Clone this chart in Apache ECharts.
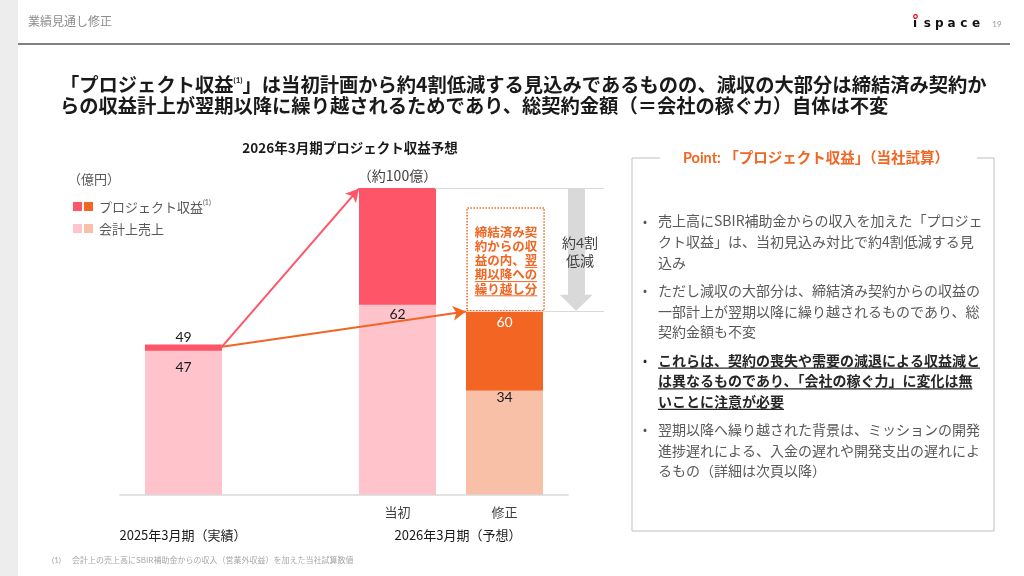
<!DOCTYPE html>
<html>
<head>
<meta charset="utf-8">
<script src="https://cdn.jsdelivr.net/npm/echarts@6/dist/echarts.min.js"></script>
<style>
html, body { margin: 0; padding: 0; background: #fff; }
#chart { width: 1024px; height: 576px; }
</style>
</head>
<body>
<div id="chart"></div>
<script>
// データ（億円）
const barNames = ['', '当初', '修正'];
const barSlots = [0, 2, 3];
const accountingSales = [47, 62, 34];
const projectRevenue = [49, 100, 60];
const periodLabels = ['2025年3月期（実績）', '2026年3月期（予想）'];
const boxLines = ['締結済み契', '約からの収', '益の内、翌', '期以降への', '繰り越し分'];
const bullets = [
    { bold: false, lines: ['売上高にSBIR補助金からの収入を加えた「プロジェ', 'クト収益」は、当初見込み対比で約4割低減する見', '込み'] },
    { bold: false, lines: ['ただし減収の大部分は、締結済み契約からの収益の', '一部計上が翌期以降に繰り越されるものであり、総', '契約金額も不変'] },
    { bold: true, lines: ['これらは、契約の喪失や需要の減退による収益減と', 'は異なるものであり、「会社の稼ぐ力」に変化は無', 'いことに注意が必要'] },
    { bold: false, lines: ['翌期以降へ繰り越された背景は、ミッションの開発', '進捗遅れによる、入金の遅れや開発支出の遅れによ', 'るもの（詳細は次頁以降）'] }
];

const JP = '"Noto Sans CJK JP", sans-serif';
const NUM = 'Lato, "Noto Sans CJK JP", sans-serif';
const baseColors = ['#FFC3CC', '#FFC3CC', '#F9C0A8'];
const topColors = ['#FF5569', '#FF5569', '#F26522'];

const ctx = document.createElement('canvas').getContext('2d');
function mw(text, font) { ctx.font = font; return ctx.measureText(text).width; }
function tx(x, y, text, font, fill, align) {
    return {
        type: 'text', x: x, y: y, silent: true, z: 100,
        style: { text: text, font: font, fill: fill, align: align || 'left', verticalAlign: 'middle',
                 textAlign: align || 'left', textVerticalAlign: 'middle' }
    };
}
function ln(x1, y1, x2, y2, stroke, w) {
    return { type: 'line', silent: true, z: 100, shape: { x1: x1, y1: y1, x2: x2, y2: y2 }, style: { stroke: stroke, lineWidth: w } };
}

const g = [];
// ヘッダー
g.push({ type: 'rect', silent: true, shape: { x: 0, y: 0, width: 18, height: 576 }, style: { fill: '#ededed' } });
g.push(tx(28, 21, '業績見通し修正', '12px ' + JP, '#8c8c8c'));
g.push(ln(18, 44, 1010, 44, '#808080', 2));
'ispace'.split('').forEach(function (c, i) {
    g.push(tx(915 + i * 12.2, 24, c, 'bold 12px "DejaVu Sans", sans-serif', '#111', 'center'));
});
g.push({ type: 'circle', silent: true, z: 101, shape: { cx: 915.5, cy: 16.5, r: 1.8 }, style: { fill: '#fff', stroke: '#e60012', lineWidth: 1.2 } });
g.push(tx(997, 24, '19', '8px ' + NUM, '#999', 'center'));

// タイトル
const tFont = 'bold 19.3px ' + JP;
const tA = '「プロジェクト収益';
const tB = '」は当初計画から約4割低減する見込みであるものの、減収の大部分は締結済み契約か';
g.push(tx(60, 85, tA, tFont, '#1a1a1a'));
const supX = 60 + mw(tA, tFont);
g.push(tx(supX, 80, '(1)', 'bold 8px ' + NUM, '#1a1a1a'));
g.push(tx(supX + mw('(1)', 'bold 8px ' + NUM), 85, tB, tFont, '#1a1a1a'));
g.push(tx(60, 106, 'らの収益計上が翌期以降に繰り越されるためであり、総契約金額（＝会社の稼ぐ力）自体は不変', tFont, '#1a1a1a'));

// グラフ見出し・単位・凡例
g.push(tx(350, 148, '2026年3月期プロジェクト収益予想', 'bold 13.5px ' + JP, '#1a1a1a', 'center'));
g.push(tx(68, 179, '（億円）', '13px ' + JP, '#595959'));
g.push({ type: 'rect', silent: true, shape: { x: 73, y: 202, width: 9, height: 9 }, style: { fill: topColors[0] } });
g.push({ type: 'rect', silent: true, shape: { x: 84, y: 202, width: 9, height: 9 }, style: { fill: topColors[2] } });
g.push({ type: 'rect', silent: true, shape: { x: 73, y: 224, width: 9, height: 9 }, style: { fill: baseColors[0] } });
g.push({ type: 'rect', silent: true, shape: { x: 84, y: 224, width: 9, height: 9 }, style: { fill: baseColors[2] } });
const lgFont = '13px ' + JP;
g.push(tx(99, 207, 'プロジェクト収益', lgFont, '#595959'));
g.push(tx(99 + mw('プロジェクト収益', lgFont), 203, '(1)', '7px ' + NUM, '#595959'));
g.push(tx(99, 229, '会計上売上', lgFont, '#595959'));

// 期間ラベル
g.push(tx(183, 535, periodLabels[0], '13px ' + JP, '#1a1a1a', 'center'));
g.push(tx(458, 535, periodLabels[1], '13px ' + JP, '#1a1a1a', 'center'));

// 点線枠内テキスト
const bxFont = 'bold 12.5px ' + JP;
boxLines.forEach(function (t, i) {
    g.push(tx(506, 232 + i * 14.2, t, bxFont, '#F26522', 'center'));
});
const bw = mw(boxLines[3], bxFont);
const bxL = 506 - bw / 2;
g.push(ln(bxL + bw * 0.8, 232 + 2 * 14.2 + 7, bxL + bw, 232 + 2 * 14.2 + 7, '#F26522', 1));
g.push(ln(bxL, 232 + 3 * 14.2 + 7, bxL + bw, 232 + 3 * 14.2 + 7, '#F26522', 1));
g.push(ln(bxL, 232 + 4 * 14.2 + 7, bxL + bw, 232 + 4 * 14.2 + 7, '#F26522', 1));

// 約4割低減
g.push(tx(580, 243, '約4割', '14px ' + NUM, '#404040', 'center'));
g.push(tx(580, 261, '低減', '14px ' + JP, '#404040', 'center'));

// 右パネル
g.push({ type: 'polyline', silent: true, shape: { points: [[660, 158], [632, 158], [632, 531], [994, 531], [994, 158], [977, 158]] },
         style: { stroke: '#bfbfbf', lineWidth: 1, fill: null } });
g.push(tx(816, 158, 'Point: 「プロジェクト収益」（当社試算）', 'bold 14.5px ' + NUM, '#F26522', 'center'));
let by = 221;
bullets.forEach(function (b) {
    const font = (b.bold ? 'bold ' : '') + '14px ' + JP;
    const col = b.bold ? '#262626' : '#595959';
    g.push(tx(645, by, '•', '12px ' + JP, col, 'center'));
    b.lines.forEach(function (t, i) {
        const y = by + i * 20.6;
        g.push(tx(658, y, t, font, col));
        if (b.bold) g.push(ln(658, y + 8, 658 + mw(t, font), y + 8, '#262626', 1.2));
    });
    by += (b.lines.length - 1) * 20.6 + 28.4;
});

// 脚注
g.push(tx(52, 560, '(1)', '8px ' + NUM, '#a6a6a6'));
g.push(tx(72, 560, '会計上の売上高にSBIR補助金からの収入（営業外収益）を加えた当社試算数値', '8px ' + JP, '#a6a6a6'));

const chart = echarts.init(document.getElementById('chart'));

// プロジェクト収益（全体）を下に描き、会計上売上を重ねる
const topLabels = [
    { position: 'top', distance: 0, color: '#1a1a1a', formatter: String(projectRevenue[0]) },
    { position: 'top', distance: 5, color: '#404040', fontFamily: JP, formatter: '（約' + projectRevenue[1] + '億）' },
    { position: 'insideTop', distance: 5, color: '#fff', formatter: String(projectRevenue[2]) }
];
const topData = projectRevenue.map(function (v, i) {
    return { value: [barSlots[i], v], itemStyle: { color: topColors[i] }, label: topLabels[i] };
});
const baseLabelOffset = [[0, 5], [0, -2], [0, -5]];
const baseData = accountingSales.map(function (v, i) {
    return { value: [barSlots[i], v], itemStyle: { color: baseColors[i] }, label: { offset: baseLabelOffset[i] } };
});

const gray = '#d9d9d9';
const option = {
    animation: false,
    backgroundColor: '#fff',
    grid: { left: 113.95, right: 412.5, top: 188, bottom: 81 },
    xAxis: {
        type: 'value', min: -0.65, max: 4.0,
        axisLine: { show: false }, axisTick: { show: false }, splitLine: { show: false },
        axisLabel: {
            customValues: [2, 3], margin: 11, fontSize: 13, fontFamily: JP, color: '#404040',
            formatter: function (v) { return barNames[barSlots.indexOf(v)] || ''; }
        }
    },
    yAxis: { type: 'value', min: 0, max: 100, show: false },
    series: [
        {
            type: 'bar', name: 'プロジェクト収益', barWidth: 77, barGap: '-100%',
            data: topData,
            label: { show: true, fontSize: 14, fontFamily: NUM }
        },
        {
            type: 'bar', name: '会計上売上', barWidth: 77, barGap: '-100%',
            data: baseData,
            label: { show: true, position: 'insideTop', distance: 5, fontSize: 14, fontFamily: NUM, color: '#1a1a1a' },
            markLine: {
                silent: true, symbol: ['none', 'none'], label: { show: false },
                data: [
                    [{ coord: [-0.6, 0], lineStyle: { color: gray, width: 1.5, type: 'solid' } }, { coord: [3.6, 0] }],
                    [{ coord: [2.35, 100], lineStyle: { color: gray, width: 1, type: 'solid' } }, { coord: [3.93, 100] }],
                    [{ coord: [2.64, 60], lineStyle: { color: gray, width: 1, type: 'solid' } }, { coord: [3.93, 60] }],
                    [{ coord: [3.67, 100], lineStyle: { color: gray, width: 17, type: 'solid', cap: 'butt' } }, { coord: [3.67, 64.8] }],
                    [{ coord: [0.36, 48.3], lineStyle: { color: '#FF5569', width: 2, type: 'solid' } },
                     { coord: [1.64, 99.8], symbol: 'arrow', symbolSize: [11, 13] }],
                    [{ coord: [0.36, 48.3], lineStyle: { color: '#F26522', width: 2, type: 'solid' } },
                     { coord: [2.64, 59.8], symbol: 'arrow', symbolSize: [11, 13] }]
                ]
            },
            markPoint: {
                silent: true, label: { show: false },
                data: [{
                    coord: [3.67, 60], symbol: 'path://M0,0 L34,0 L17,16 Z', symbolSize: [33, 16],
                    symbolKeepAspect: false, symbolOffset: [0, -8], itemStyle: { color: gray }
                }]
            },
            markArea: {
                silent: true, label: { show: false },
                itemStyle: { color: 'rgba(0,0,0,0)', borderColor: '#F26522', borderWidth: 1.5, borderType: 'dotted' },
                data: [[{ coord: [2.65, 93.5] }, { coord: [3.37, 60] }]]
            }
        }
    ],
    graphic: { elements: g }
};
chart.setOption(option);
</script>
</body>
</html>
